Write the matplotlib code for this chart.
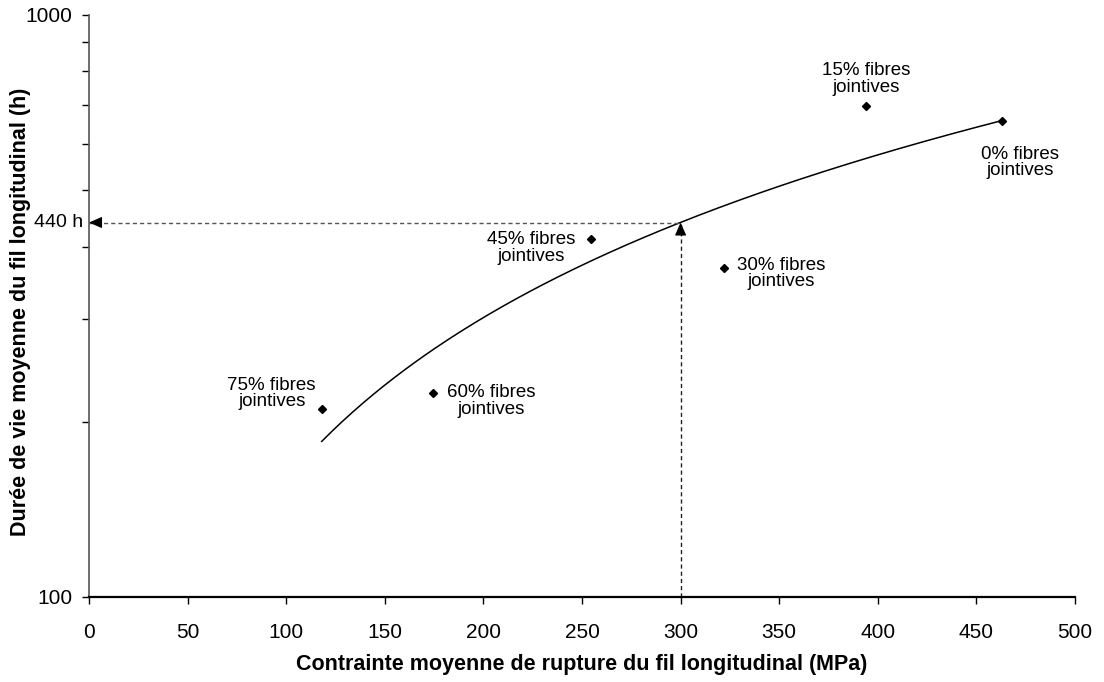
import numpy as np
import matplotlib
matplotlib.use("Agg")
import matplotlib.pyplot as plt
from matplotlib.ticker import FixedLocator, NullFormatter

plt.rcParams['font.family'] = ['Liberation Sans', 'DejaVu Sans']

# points
labels = ["0% fibres\njointives", "15% fibres\njointives", "30% fibres\njointives",
          "45% fibres\njointives", "60% fibres\njointives", "75% fibres\njointives"]
stress = [463, 394, 322, 254.5, 174.5, 118]
life = [658, 698, 367, 412, 224, 210]
# label offsets (pixels) from each point
offsets = [(18, -42), (0, 27), (57, -5), (-60, -9), (58, -8), (-50, 16)]

x_ref = 300
y_ref = 440

# power trend line (log-log fit like the spreadsheet trendline)
b, a = np.polyfit(np.log10(stress), np.log10(life), 1)
xs = np.linspace(min(stress), max(stress), 200)
ys = 10 ** (a + b * np.log10(xs))

fig = plt.figure(figsize=(11.04, 6.82), dpi=100)
ax = fig.add_axes([89 / 1104, 1 - 597 / 682, (1075 - 89) / 1104, (597 - 15) / 682])

ax.plot(xs, ys, color='black', lw=1.1)
ax.plot(stress, life, ls='none', marker='D', ms=4.5, color='black')

for lab, xv, yv, (dx, dy) in zip(labels, stress, life, offsets):
    ax.annotate(lab, (xv, yv), xytext=(dx, dy), textcoords='offset pixels',
                ha='center', va='center', fontsize=13.5, linespacing=0.95)

# reading lines at 300 MPa / 440 h
ax.plot([0, x_ref], [y_ref, y_ref], color='#555555', lw=1, dashes=(3, 2.2), clip_on=False)
ax.plot([x_ref, x_ref], [100, y_ref], color='#222222', lw=1, dashes=(3, 2.2))
arrow = dict(arrowstyle='-|>,head_length=0.8,head_width=0.35', color='black',
             lw=0.8, shrinkA=0, shrinkB=0)
ax.annotate('', xy=(0, y_ref), xytext=(12, 0), textcoords='offset pixels',
            arrowprops=arrow, annotation_clip=False)
ax.annotate('', xy=(x_ref, y_ref), xytext=(0, -12), textcoords='offset pixels',
            arrowprops=arrow)
ax.annotate('440 h', (0, y_ref), xycoords=('axes fraction', 'data'), xytext=(-6, 0),
            textcoords='offset pixels', ha='right', va='center', fontsize=14,
            annotation_clip=False)

ax.set_yscale('log')
ax.set_xlim(0, 500)
ax.set_ylim(100, 1000)
ax.set_xticks(np.arange(0, 501, 50))
ax.set_yticks([100, 1000])
ax.set_yticklabels(['100', '1000'])
ax.yaxis.set_minor_locator(FixedLocator([200, 300, 400, 500, 600, 700, 800, 900]))
ax.yaxis.set_minor_formatter(NullFormatter())

ax.tick_params(axis='both', which='major', labelsize=15, length=5, width=1, direction='out')
ax.tick_params(axis='y', which='minor', length=5, width=1, direction='out')
ax.tick_params(axis='x', pad=13.5)
ax.tick_params(axis='y', pad=7)

for s in ['top', 'right']:
    ax.spines[s].set_visible(False)
ax.spines['left'].set_color('#555555')
ax.spines['left'].set_linewidth(1.2)
ax.spines['bottom'].set_linewidth(1.6)

ax.set_xlabel("Contrainte moyenne de rupture du fil longitudinal (MPa)",
              fontsize=15.5, fontweight='bold', labelpad=9)
ax.set_ylabel("Durée de vie moyenne du fil longitudinal (h)",
              fontsize=15.5, fontweight='bold')
ax.yaxis.set_label_coords(-0.059, 0.49)

fig.savefig("out.png", dpi=100)
